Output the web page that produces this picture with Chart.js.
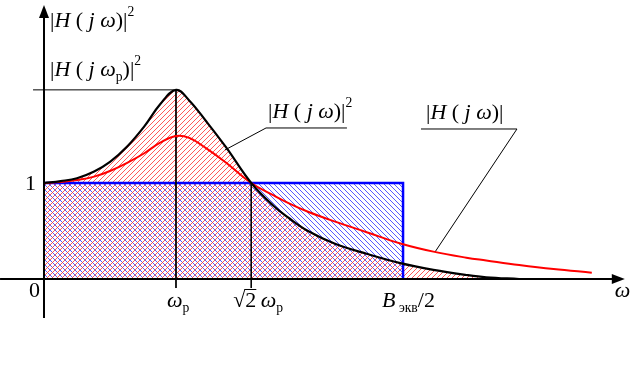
<!DOCTYPE html>
<html lang="ru">
<head>
<meta charset="UTF-8">
<title>|H(jω)|² и полоса Bэкв</title>
<script src="https://cdn.jsdelivr.net/npm/chart.js"></script>
<style>
  body { margin: 0; background: #fff; }
  canvas { display: block; }
</style>
</head>
<body>
<canvas id="chart" width="636" height="380"></canvas>
<script>
// frequency in units of ω/ωр
const freq      = [0, 0.126, 0.25, 0.38, 0.5, 0.63, 0.76, 0.88, 1.0, 1.1, 1.23, 1.38, 1.57, 1.74, 1.86, 2.0, 2.2, 2.45, 2.7, 2.95, 3.2, 3.35, 3.6, 3.86, 4.15];
// |H(jω)|^2  (black)
const powerResp = [1.0, 1.02, 1.05, 1.12, 1.22, 1.38, 1.59, 1.82, 1.97, 1.86, 1.64, 1.37, 1.0, 0.76, 0.63, 0.50, 0.37, 0.26, 0.165, 0.095, 0.042, 0.018, 0.0, null, null];
// |H(jω)|  (red)
const ampResp   = [1.0, 1.01, 1.03, 1.066, 1.125, 1.21, 1.31, 1.42, 1.49, 1.47, 1.36, 1.21, 1.0, 0.87, 0.785, 0.70, 0.60, 0.485, 0.37, 0.285, 0.222, 0.193, 0.146, 0.104, 0.066];

// characteristic frequencies on the axis
const omegaP = 1.0;
const sqrt2OmegaP = 1.57;
const bHalf = 2.72;      // Bэкв/2
const peakSq = 1.97;     // |H(jωр)|^2
const unitLevel = 1;

// equivalent rectangle
const rectX = [0, bHalf, bHalf];
const rectY = [unitLevel, unitLevel, 0];

// leader lines for the labels (data units)
const leaderSqX = [2.295, 1.682, 1.371];
const leaderSqY = [1.573, 1.573, 1.344];
const leaderAbsX = [2.856, 3.583, 2.962];
const leaderAbsY = [1.5625, 1.5625, 0.281];

const toPts = (xs, ys) => xs.map((x, i) => ({ x: x, y: ys[i] }));

function hatch(color, dir) {
  const s = 5;
  const c = document.createElement('canvas');
  c.width = s; c.height = s;
  const g = c.getContext('2d');
  g.strokeStyle = color;
  g.lineWidth = 1;
  g.beginPath();
  if (dir > 0) {
    g.moveTo(-1, s + 1); g.lineTo(s + 1, -1);
    g.moveTo(-1, 1); g.lineTo(1, -1);
    g.moveTo(s - 1, s + 1); g.lineTo(s + 1, s - 1);
  } else {
    g.moveTo(-1, -1); g.lineTo(s + 1, s + 1);
    g.moveTo(-1, s - 1); g.lineTo(1, s + 1);
    g.moveTo(s - 1, -1); g.lineTo(s + 1, 1);
  }
  g.stroke();
  return g.createPattern(c, 'repeat');
}

const redHatch = hatch('rgba(255,60,60,0.85)', 1);
const blueHatch = hatch('rgba(60,60,255,0.85)', -1);

const SERIF = '"Liberation Serif", "DejaVu Serif", serif';

// draw a formula made of runs: [text, style] ; style: 'i' italic, 'n' normal, 'sup', 'sub'
function drawRuns(ctx, x, y, parts, size) {
  let cx = x;
  parts.forEach(p => {
    const [t, st] = p;
    let fs = size, dy = 0, it = false;
    if (st === 'i') it = true;
    if (st === 'sup') { fs = size * 0.62; dy = -size * 0.48; }
    if (st === 'sub') { fs = size * 0.62; dy = size * 0.25; }
    ctx.font = (it ? 'italic ' : '') + fs + 'px ' + SERIF;
    ctx.fillText(t, cx, y + dy);
    cx += ctx.measureText(t).width;
  });
  return cx;
}

const axesPlugin = {
  id: 'axes',
  afterDatasetsDraw(chart) {
    const { ctx, scales: { x, y } } = chart;
    const x0 = x.getPixelForValue(0), y0 = y.getPixelForValue(0);
    ctx.save();
    ctx.strokeStyle = '#000';
    ctx.fillStyle = '#000';
    ctx.lineWidth = 2;
    // x axis
    const xEnd = x.getPixelForValue(4.40);
    ctx.beginPath();
    ctx.moveTo(x.getPixelForValue(-0.333), y0);
    ctx.lineTo(xEnd - 8, y0);
    ctx.stroke();
    ctx.beginPath();
    ctx.moveTo(xEnd, y0);
    ctx.lineTo(xEnd - 13, y0 - 5);
    ctx.lineTo(xEnd - 13, y0 + 5);
    ctx.closePath();
    ctx.fill();
    // y axis
    const yEnd = y.getPixelForValue(2.854);
    ctx.beginPath();
    ctx.moveTo(x0, y.getPixelForValue(-0.406));
    ctx.lineTo(x0, yEnd + 8);
    ctx.stroke();
    ctx.beginPath();
    ctx.moveTo(x0, yEnd);
    ctx.lineTo(x0 - 5, yEnd + 13);
    ctx.lineTo(x0 + 5, yEnd + 13);
    ctx.closePath();
    ctx.fill();
    ctx.restore();
  },
  afterDraw(chart) {
    const { ctx, scales: { x, y } } = chart;
    const y0 = y.getPixelForValue(0);
    const x0 = x.getPixelForValue(0);
    ctx.save();
    ctx.fillStyle = '#000';
    ctx.textBaseline = 'alphabetic';
    const fs = 22;
    // axis labels
    drawRuns(ctx, x0 + 6, 27, [['|', 'n'], ['H', 'i'], [' (', 'n'], [' j', 'i'], [' ω', 'i'], [')', 'n'], ['|', 'n'], ['2', 'sup']], fs);
    drawRuns(ctx, x.getPixelForValue(4.40) - 10, y0 + 18, [['ω', 'i']], fs);
    // peak label
    drawRuns(ctx, x0 + 6, y.getPixelForValue(peakSq) - 14, [['|', 'n'], ['H', 'i'], [' (', 'n'], [' j', 'i'], [' ω', 'i'], ['р', 'sub'], [')', 'n'], ['|', 'n'], ['2', 'sup']], fs);
    // curve labels
    drawRuns(ctx, x.getPixelForValue(leaderSqX[1]) + 2, y.getPixelForValue(leaderSqY[0]) - 10, [['|', 'n'], ['H', 'i'], [' (', 'n'], [' j', 'i'], [' ω', 'i'], [')', 'n'], ['|', 'n'], ['2', 'sup']], fs);
    drawRuns(ctx, x.getPixelForValue(leaderAbsX[0]) + 5, y.getPixelForValue(leaderAbsY[0]) - 10, [['|', 'n'], ['H', 'i'], [' (', 'n'], [' j', 'i'], [' ω', 'i'], [')', 'n'], ['|', 'n']], fs);
    // y ticks
    ctx.font = fs + 'px ' + SERIF;
    ctx.fillText('1', x0 - 19, y.getPixelForValue(unitLevel) + 7);
    ctx.fillText('0', x0 - 15, y0 + 18);
    // x ticks
    const ty = y0 + 28;
    drawRuns(ctx, x.getPixelForValue(omegaP) - 9, ty, [['ω', 'i'], ['р', 'sub']], fs);
    const sx = x.getPixelForValue(sqrt2OmegaP) - 18;
    ctx.font = fs + 'px ' + SERIF;
    const rw = ctx.measureText('√').width;
    const tw = ctx.measureText('2').width;
    drawRuns(ctx, sx, ty, [['√', 'n'], ['2', 'n'], ['\u2009', 'n'], ['ω', 'i'], ['р', 'sub']], fs);
    ctx.beginPath();
    ctx.lineWidth = 1;
    ctx.strokeStyle = '#000';
    ctx.moveTo(sx + rw - 1, ty - 17.5);
    ctx.lineTo(sx + rw + tw, ty - 17.5);
    ctx.stroke();
    drawRuns(ctx, x.getPixelForValue(bHalf) - 21, ty, [['B', 'i'], [' экв', 'sub'], ['/2', 'n']], fs);
    ctx.restore();
  }
};

const thin = { borderColor: '#000', borderWidth: 1, pointRadius: 0, fill: false, tension: 0, order: 3 };

new Chart(document.getElementById('chart').getContext('2d'), {
  type: 'line',
  data: {
    datasets: [
      {
        data: toPts(freq, powerResp),
        borderColor: '#000',
        borderWidth: 2.2,
        backgroundColor: redHatch,
        fill: 'origin',
        tension: 0.4,
        pointRadius: 0,
        order: 1
      },
      {
        data: toPts(freq, ampResp),
        borderColor: '#ff0000',
        borderWidth: 2,
        fill: false,
        tension: 0.4,
        pointRadius: 0,
        order: 2
      },
      {
        data: toPts(rectX, rectY),
        borderColor: '#0000ff',
        borderWidth: 2.5,
        backgroundColor: blueHatch,
        fill: 'origin',
        tension: 0,
        pointRadius: 0,
        order: 4
      },
      Object.assign({ data: [{ x: -0.083, y: peakSq }, { x: omegaP, y: peakSq }] }, thin),
      Object.assign({ data: [{ x: omegaP, y: peakSq }, { x: omegaP, y: -0.094 }] }, thin),
      Object.assign({ data: [{ x: sqrt2OmegaP, y: unitLevel }, { x: sqrt2OmegaP, y: -0.094 }] }, thin),
      Object.assign({ data: toPts(leaderSqX, leaderSqY) }, thin),
      Object.assign({ data: toPts(leaderAbsX, leaderAbsY) }, thin)
    ]
  },
  options: {
    responsive: false,
    animation: false,
    layout: { padding: 0 },
    clip: false,
    plugins: {
      legend: { display: false },
      tooltip: { enabled: false },
      filler: { drawTime: 'beforeDatasetsDraw' }
    },
    scales: {
      x: { type: 'linear', display: false, min: -0.3333, max: 4.4848 },
      y: { type: 'linear', display: false, min: -1.052, max: 2.906 }
    }
  },
  plugins: [axesPlugin]
});
</script>
</body>
</html>
